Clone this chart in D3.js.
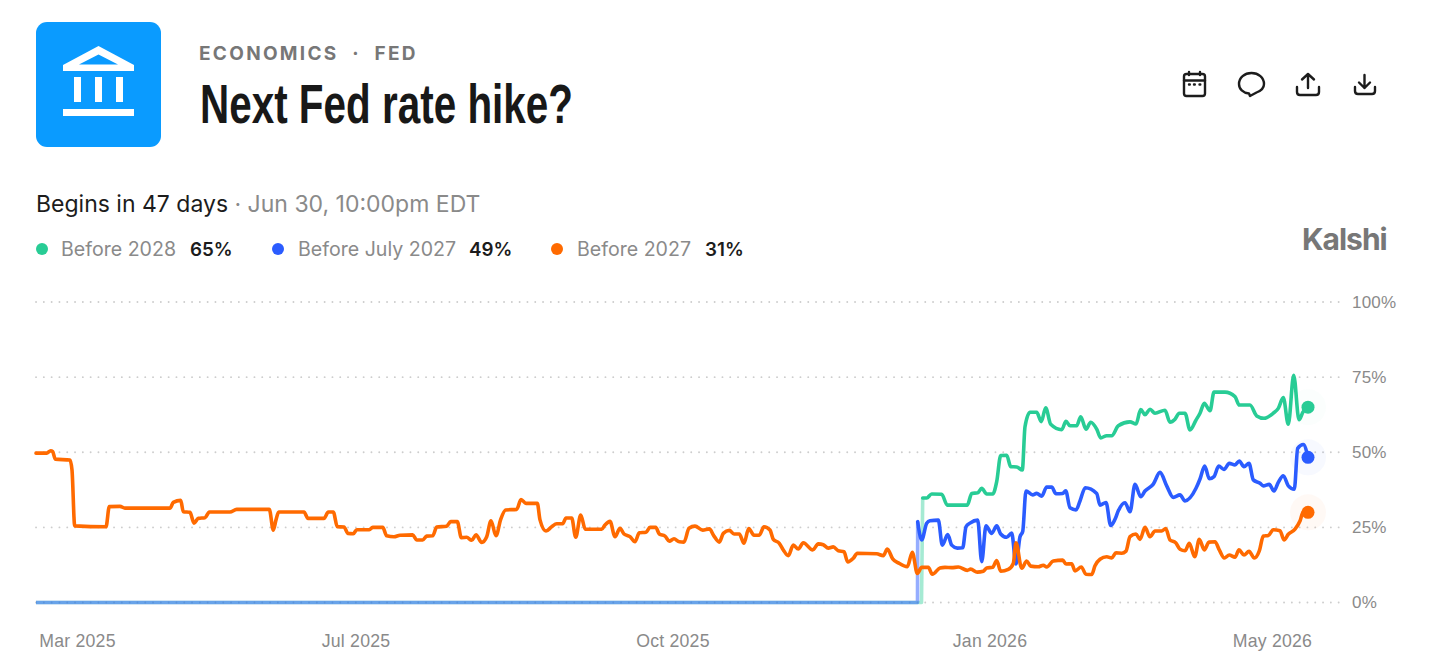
<!DOCTYPE html>
<html>
<head>
<meta charset="utf-8">
<script src="https://cdn.jsdelivr.net/npm/d3@7"></script>
<style>
  html, body { margin: 0; padding: 0; background: #fff; overflow: hidden; }
  svg { display: block; font-family: Inter, "Noto Sans", sans-serif; }
  .tick text { fill: #8a8a8a; font-size: 17px; letter-spacing: .2px; }
  .xaxis .tick text { font-size: 17.7px; }
</style>
</head>
<body>
<div id="chart"></div>
<script>
// x is a running step along the chart, y is percent chance
const yTicks = [0, 25, 50, 75, 100];
const xTickSteps = [41, 319.5, 636.5, 953.5, 1236];
const xTickLabels = ["Mar 2025", "Jul 2025", "Oct 2025", "Jan 2026", "May 2026"];

const legendNames = ["Before 2028", "Before July 2027", "Before 2027"];
const legendValues = ["65%", "49%", "31%"];

const green2028 = [[0,0],[885.5,0],[886.7,34.8],[890.7,34.8],[895.7,36.1],[905.7,36],[911.3,32.4],[931.3,32.4],[935.7,36.3],[941.7,36.5],[945.7,38],[950.7,36.1],[956.7,36.1],[960.7,40.2],[964.7,48.9],[970.7,49],[974.7,45.2],[980.7,45.1],[986.3,44.1],[989,58.5],[994,63.3],[1000.7,63.3],[1005.3,60.2],[1009.7,64.8],[1014.7,59.3],[1025.7,57.5],[1030,60.3],[1034,58.8],[1040.7,58.8],[1044.7,61.8],[1050,57.7],[1054.7,60],[1060.7,57.7],[1064.7,54.8],[1070.7,55.5],[1075.7,55.5],[1082.3,58.8],[1094,60.1],[1100,59.4],[1104.7,64.2],[1109,62.5],[1114,64.3],[1119,63],[1129,64],[1134,60],[1139,61],[1143.3,63],[1149,63],[1154,57.4],[1160,60.7],[1164,63],[1168.3,66.3],[1174,63.8],[1178,70],[1189,70],[1199,68.5],[1203.3,65.7],[1214,65.7],[1220.7,62.1],[1228,61.3],[1237.3,63],[1242.3,64.6],[1247.3,68.2],[1252.3,59.3],[1257.7,75.6],[1263,60.8],[1267,63.4],[1272,65]];

const blueJuly2027 = [[0,0],[881.5,0],[881.7,26.9],[885.7,20.8],[890.7,26.4],[894,27.2],[902.3,27.4],[906.3,19.1],[911.7,22.6],[915.7,19.1],[921.3,18.1],[926.7,18.2],[930,25.2],[934,26.4],[941.7,27.4],[945.7,13.6],[950,25.5],[955.7,23],[960.7,25.5],[964.7,22.8],[970.7,21.7],[975.7,23.1],[980,12.8],[984,21.9],[986.7,23.6],[990,37.1],[996.7,35.8],[1000.7,36.3],[1005.7,35.4],[1010.7,38.4],[1015.7,38.4],[1020,36.2],[1026.7,36.3],[1029.7,37.2],[1034,31.5],[1040,30.8],[1044,33.8],[1049.3,38.2],[1060.7,36.3],[1064,32.4],[1070,33.3],[1074.7,25.6],[1079,27.7],[1082.3,30.5],[1089,33.2],[1094,30.2],[1099,39.3],[1104.7,35.2],[1109,37.1],[1117.3,39.4],[1124,43.3],[1130.7,38.8],[1137.3,35],[1144,35.8],[1149,33.8],[1160,38],[1164,41.1],[1168.7,45.4],[1173.3,41.2],[1178,41.9],[1182.7,45.4],[1188,44.3],[1193.3,46.3],[1199,45.8],[1203.3,47.1],[1208,45.2],[1213,46.3],[1217.3,40.8],[1224,39.7],[1227.3,38.8],[1233.3,39.3],[1238,37.1],[1242.3,40],[1247.3,42.2],[1252.3,38.8],[1258.3,37.7],[1261.7,51.3],[1267.3,52.6],[1272,48.3]];

const orange2027 = [[0,49.7],[10.7,49.7],[14.7,50.5],[16.7,50.2],[19.3,47.7],[34,47.4],[36,44.1],[38.7,25.5],[70,25.2],[73.3,31.9],[84,32],[89,31.4],[134,31.4],[137.3,33.3],[144.7,34],[147.3,30.2],[154,30],[158,26.4],[162.3,28],[169,28.2],[173.3,30.1],[194,30.1],[200.7,31],[233.3,31],[237.3,24.1],[240,27.5],[242.7,30.1],[268,30.1],[272,28],[288,28],[292.3,30.1],[297.3,30.1],[301.3,25.2],[308,25.1],[312,23],[317.3,22.9],[320.7,24.2],[333.3,24.2],[336.7,25],[346.7,25],[350.7,22.2],[358,21.9],[364,22.4],[376.7,22.5],[380.7,20.8],[386.7,20.8],[390.7,22.1],[396.7,22.2],[400.7,25.1],[410.7,25.4],[414.7,26.9],[421.3,26.9],[425.3,21.6],[430.7,21.7],[435.7,20.7],[440,22.5],[445.7,20],[450.7,21.9],[455,27.2],[460,22.2],[464.7,27.7],[469.7,30.8],[480.7,31],[485,34.3],[490,33],[501.3,33],[504,27.5],[510,23.8],[515.7,25.2],[520.7,26.2],[526.7,26.2],[530,28.1],[535.7,28.1],[539.7,21.7],[544.7,29.1],[549.3,24.4],[565.7,24.4],[569,25.8],[574,27],[579,21.9],[584,24.7],[588,22.8],[594,21.9],[599,20.2],[603.3,23.2],[610,23.4],[614,25],[619.7,25],[623.3,22.8],[629,22.1],[633.3,20.4],[638,21.2],[643.3,20.2],[648,20.1],[653,24.7],[659,25.4],[666.7,24.1],[673.3,24.5],[678,22.1],[683.3,20.1],[687.3,23],[693.3,24],[698,22.8],[703.3,22.8],[708,19.7],[712.7,24.6],[718,22.4],[723.3,22.4],[728,25.2],[734,24.1],[737.3,21],[743.3,19.7],[747.3,17.5],[752.3,15.6],[757.3,19.1],[762.3,17.8],[767.3,19.9],[776.7,17.5],[782.3,19.5],[787.3,19.2],[792.3,18.1],[797.3,18.5],[802.3,17.2],[808,16.9],[811.7,13.5],[817.3,14.7],[821.3,16.4],[840.7,16.2],[847.3,15.6],[851.3,17.8],[856.7,14.5],[862.3,13.2],[871.3,11.9],[876.3,16.7],[881.3,9.7],[885.7,11.7],[892.3,11.7],[896.3,9.4],[904,11.5],[909,11.7],[915.7,11.6],[922.3,11.8],[931.3,10.7],[934.7,11.1],[941.3,10.1],[947.3,10.4],[950.7,11.5],[956.7,11.7],[960.7,14],[964.7,10.4],[972.3,11],[977.3,13],[980,19.9],[985.7,11.4],[990.7,13.8],[994.7,12.1],[1002.3,11.9],[1007.3,12.4],[1010.7,11.8],[1017.3,13.8],[1026.7,14.1],[1030,12.8],[1035.7,12.9],[1039,10.5],[1045.3,11.8],[1050,9.4],[1055.7,9.3],[1059,12.2],[1064,14.4],[1070.7,15.2],[1075.7,14.8],[1080,16.5],[1085.7,16.4],[1090,17.1],[1094,21.9],[1100,22.8],[1104,21],[1109,25],[1114,21.9],[1119,23.8],[1125.7,23.8],[1129.7,24.6],[1134,20.8],[1139.7,19.9],[1144,17.7],[1149,17.2],[1153.3,19.7],[1158.7,15.2],[1163.3,21],[1168.3,17.5],[1173,20.1],[1179,20.2],[1183.3,17.5],[1188.3,14.8],[1193.3,15.8],[1199,15.1],[1203,17.5],[1208,15.8],[1213,17],[1218.3,14.8],[1223.3,17.2],[1227.3,22.1],[1232.3,22.3],[1237.3,24.2],[1244,23.9],[1248,20.8],[1252.3,22.7],[1259,24.4],[1264,27.1],[1267.3,30.2],[1272,30]];

const colors = ["#28cc95", "#2b5cff", "#ff6a00"];
const lines = [green2028, blueJuly2027, orange2027];

const width = 1439, height = 670;
const svg = d3.select("#chart").append("svg")
  .attr("width", width)
  .attr("height", height);

const x = d3.scaleLinear().domain([0, 1272]).range([36, 1308]);
const y = d3.scaleLinear().domain([0, 100]).range([602.5, 302]);

// header
svg.append("rect")
  .attr("x", 36).attr("y", 22)
  .attr("width", 125).attr("height", 125)
  .attr("rx", 11)
  .attr("fill", "#0a9bff");

const bank = svg.append("g").attr("fill", "#fff");
bank.append("path")
  .attr("fill-rule", "evenodd")
  .attr("d", "M98.5 46 L134 65 V71 H63 V65 Z M98.5 54.500 L79 64.500 H118 Z");
[74, 95, 116].forEach(c => bank.append("rect").attr("x", c).attr("y", 77).attr("width", 7).attr("height", 25));
bank.append("rect").attr("x", 63).attr("y", 109).attr("width", 71).attr("height", 7);

svg.append("text")
  .attr("x", 199).attr("y", 60)
  .attr("fill", "#777")
  .style("font-size", "19px")
  .style("font-weight", 700)
  .style("letter-spacing", "2.3px")
  .attr("xml:space", "preserve")
  .text("ECONOMICS  ·  FED");

svg.append("text")
  .attr("x", 200).attr("y", 123)
  .attr("textLength", 373)
  .attr("lengthAdjust", "spacingAndGlyphs")
  .attr("fill", "#181818")
  .style("font-family", "'Liberation Sans Narrow', 'Liberation Sans', sans-serif")
  .style("font-size", "56px")
  .style("font-weight", 700)
  .text("Next Fed rate hike?");

// toolbar icons
const icons = svg.append("g")
  .attr("fill", "none")
  .attr("stroke", "#1c1c1c")
  .attr("stroke-width", 2.4)
  .attr("stroke-linecap", "round")
  .attr("stroke-linejoin", "round");
icons.append("rect").attr("x", 1184).attr("y", 74).attr("width", 21).attr("height", 22).attr("rx", 2.5);
icons.append("path").attr("d", "M1184 80.5 H1205 M1189 72 V75 M1200 72 V75");
icons.append("path").attr("d", "M1189 84.5 H1189.8 M1194 84.5 H1194.8 M1199.5 84.5 H1200.3");
icons.append("path").attr("d", "M1250 96 L1249 93.5 C1243 93 1239 89 1239 84 C1239 77.5 1244.5 73 1251.5 73 C1258.5 73 1264 77.5 1264 84 C1264 88.5 1260.5 91 1256.5 92.5 Z");
icons.append("path").attr("d", "M1297 87 V92 Q1297 95 1300 95 H1316 Q1319 95 1319 92 V87 M1308 88 V74 M1302 79.5 L1308 74 L1314 79.5");
icons.append("path").attr("d", "M1355 87 V91 Q1355 94 1358 94 H1372 Q1375 94 1375 91 V87 M1364.500 75 V88 M1359 82.500 L1364.500 88 L1370 82.500");

svg.append("text")
  .attr("x", 1302).attr("y", 250)
  .attr("fill", "#777")
  .style("font-size", "30px")
  .style("font-weight", 700)
  .style("letter-spacing", "-1px")
  .text("Kalshi");

// subtitle
const sub = svg.append("text").attr("x", 36).attr("y", 212).style("font-size", "23px");
sub.append("tspan").attr("fill", "#1c1c1c").text("Begins in 47 days");
sub.append("tspan").attr("fill", "#8a8a8a").text(" · Jun 30, 10:00pm EDT");

// legend
const legendDotX = [42, 278, 557];
const legendNameX = [61, 298, 577];
const legendValueX = [190, 469, 705];
legendNames.forEach((name, i) => {
  svg.append("circle").attr("cx", legendDotX[i]).attr("cy", 249).attr("r", 6).attr("fill", colors[i]);
  svg.append("text").attr("x", legendNameX[i]).attr("y", 256)
    .attr("fill", "#8a8a8a").style("font-size", "19.6px").text(name);
  svg.append("text").attr("x", legendValueX[i]).attr("y", 256)
    .attr("fill", "#1c1c1c").style("font-size", "18.8px").style("font-weight", 600).text(legendValues[i]);
});

// axes
const yAxis = svg.append("g")
  .attr("transform", "translate(1341,0)")
  .call(d3.axisRight(y).tickValues(yTicks).tickSize(0).tickPadding(11).tickFormat(d => d + "%"));
yAxis.select(".domain").remove();

svg.append("g").selectAll("line")
  .data(yTicks)
  .join("line")
  .attr("x1", 36).attr("x2", 1341)
  .attr("y1", d => y(d)).attr("y2", d => y(d))
  .attr("stroke", "#cdcdcd")
  .attr("stroke-width", 1.8)
  .attr("stroke-linecap", "round")
  .attr("stroke-dasharray", "0.1 7.7");

const xAxis = svg.append("g")
  .attr("class", "xaxis")
  .attr("transform", "translate(0,629)")
  .call(d3.axisBottom(x).tickValues(xTickSteps).tickSize(0).tickPadding(0)
    .tickFormat((d, i) => xTickLabels[i]));
xAxis.select(".domain").remove();
xAxis.selectAll("text").attr("dy", "1em");

// lines
const line = d3.line().x(d => x(d[0])).y(d => y(d[1])).curve(d3.curveMonotoneX);
const flat = d3.line().x(d => x(d[0])).y(d => y(d[1]));

// green and blue sit at zero until trading opens, drawn faint
[0, 1].forEach(i => {
  svg.append("path")
    .attr("d", flat(lines[i].slice(0, 3)))
    .attr("fill", "none")
    .attr("stroke", colors[i])
    .attr("stroke-width", 3.6)
    .attr("stroke-linejoin", "round")
    .attr("opacity", i ? 0.5 : 0.42);
});

[0, 1, 2].forEach(i => {
  const pts = i < 2 ? lines[i].slice(2) : lines[i];
  svg.append("path")
    .attr("d", line(pts))
    .attr("fill", "none")
    .attr("stroke", colors[i])
    .attr("stroke-width", 3.6)
    .attr("stroke-linejoin", "round")
    .attr("stroke-linecap", "round");

  const last = pts[pts.length - 1];
  svg.append("circle")
    .attr("cx", x(last[0])).attr("cy", y(last[1])).attr("r", 18)
    .attr("fill", colors[i]).attr("opacity", i ? 0.04 : 0.02);
  svg.append("circle")
    .attr("cx", x(last[0])).attr("cy", y(last[1])).attr("r", 6.5)
    .attr("fill", colors[i]);
});
</script>
</body>
</html>
